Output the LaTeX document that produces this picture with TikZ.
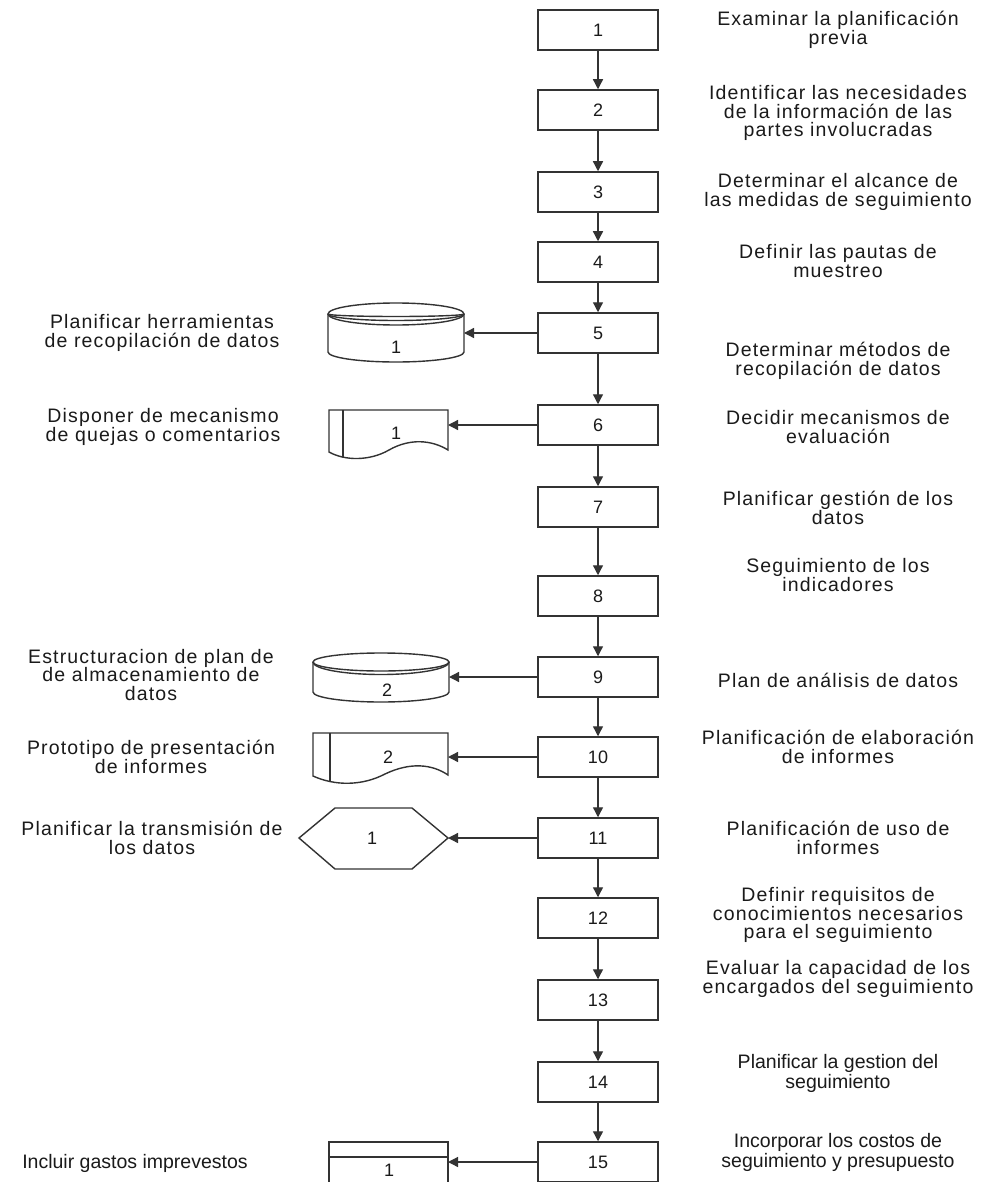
\documentclass[tikz,border=0pt]{standalone}
\usepackage{fontspec}
\setmainfont{Liberation Sans}
\newfontfamily\spacedf[LetterSpace=6]{Liberation Sans}
\usetikzlibrary{arrows.meta}
\definecolor{lc}{HTML}{333333}
\definecolor{tc}{HTML}{1A1A1A}
\begin{document}
\begin{tikzpicture}[x=1pt,y=-1pt,
  stepbox/.style={draw=lc, line width=1.5pt, minimum width=120pt, minimum height=40pt,
    inner sep=0pt, text=tc, font=\fontsize{18}{18}\selectfont},
  desc/.style={align=center, inner sep=0pt, text=tc, font=\spacedf\fontsize{19.5}{18.5}\selectfont},
  desctight/.style={align=center, inner sep=0pt, text=tc, font=\fontsize{19.5}{20}\selectfont},
  shapelbl/.style={inner sep=0pt, text=tc, font=\fontsize{18}{18}\selectfont},
  shapeline/.style={draw=lc, line width=1.4pt},
  flow/.style={draw=lc, line width=1.3pt, -{Triangle[length=10pt,width=10pt]}}]
\fill[white] (0,0) rectangle (984,1182);
\useasboundingbox (0,0) rectangle (984,1182);

% main column
\node[stepbox] (b1) at (598,30) {1};
\node[stepbox] (b2) at (598,110) {2};
\node[stepbox] (b3) at (598,192) {3};
\node[stepbox] (b4) at (598,262) {4};
\node[stepbox] (b5) at (598,333) {5};
\node[stepbox] (b6) at (598,425) {6};
\node[stepbox] (b7) at (598,507) {7};
\node[stepbox] (b8) at (598,596) {8};
\node[stepbox] (b9) at (598,677) {9};
\node[stepbox] (b10) at (598,757) {10};
\node[stepbox] (b11) at (598,838) {11};
\node[stepbox] (b12) at (598,918) {12};
\node[stepbox] (b13) at (598,1000) {13};
\node[stepbox] (b14) at (598,1082) {14};
\node[stepbox] (b15) at (598,1162) {15};

\foreach \a/\b in {b1/b2,b2/b3,b3/b4,b4/b5,b5/b6,b6/b7,b7/b8,b8/b9,b9/b10,b10/b11,b11/b12,b12/b13,b13/b14,b14/b15}
  \draw[flow] (\a) -- (\b);

% right descriptions
\node[desc] (t1) at (838,30) {Examinar la planificación\\previa};
\node[desc] (t2) at (838,113) {Identificar las necesidades\\de la información de las\\partes involucradas};
\node[desc] (t3) at (838,192) {Determinar el alcance de\\las medidas de seguimiento};
\node[desc] (t4) at (838,261) {Definir las pautas de\\muestreo};
\node[desc] (t5) at (838,361) {Determinar métodos de\\recopilación de datos};
\node[desc] (t6) at (838,427) {Decidir mecanismos de\\evaluación};
\node[desc] (t7) at (838,508) {Planificar gestión de los\\datos};
\node[desc] (t8) at (838,575) {Seguimiento de los\\indicadores};
\node[desc] (t9) at (838,680) {Plan de análisis de datos};
\node[desc] (t10) at (838,747) {Planificación de elaboración\\de informes};
\node[desc] (t11) at (838,838) {Planificación de uso de\\informes};
\node[desc] (t12) at (838,915) {Definir requisitos de\\conocimientos necesarios\\para el seguimiento};
\node[desc] (t13) at (838,979) {Evaluar la capacidad de los\\encargados del seguimiento};
\node[desctight] (t14) at (838,1073) {Planificar la gestion del\\seguimiento};
\node[desctight] (t15) at (838,1152) {Incorporar los costos de\\seguimiento y presupuesto};

% left descriptions
\node[desc] (l5) at (162,333) {Planificar herramientas\\de recopilación de datos};
\node[desc] (l6) at (163,427) {Disponer de mecanismo\\de quejas o comentarios};
\node[desc] (l9) at (151,675) {Estructuracion de plan de\\de almacenamiento de\\datos};
\node[desc] (l10) at (151,757) {Prototipo de presentación\\de informes};
\node[desc] (l11) at (152,838) {Planificar la transmisión de\\los datos};
\node[desctight] (l15) at (135,1163) {Incluir gastos imprevestos};

% cylinder 1 (step 5)
\draw[shapeline, fill=white] (328,314) -- (328,352) arc[start angle=180,end angle=360,x radius=68pt,y radius=10pt] -- (464,314);
\draw[shapeline, fill=white] (396,314) ellipse[x radius=68pt,y radius=11pt];
\draw[shapeline] (328,314) arc[start angle=180,end angle=360,x radius=68pt,y radius=6.5pt];
\draw[shapeline] (328,314) arc[start angle=180,end angle=360,x radius=68pt,y radius=2.5pt];
\node[shapelbl] (s5) at (396,347) {1};
\coordinate (s5e) at (464,333);

% document 1 (step 6)
\draw[shapeline, fill=white] (329,410) -- (448,410) -- (448,450)
  .. controls (432,440) and (410,438) .. (389,450)
  .. controls (370,461) and (345,461) .. (329,452) -- cycle;
\draw[shapeline] (343,410) -- (343,456.5);
\node[shapelbl] (s6) at (396,433) {1};
\coordinate (s6e) at (448,425);

% cylinder 2 (step 9)
\draw[shapeline, fill=white] (313,662) -- (313,692) arc[start angle=180,end angle=360,x radius=68pt,y radius=10pt] -- (449,662);
\draw[shapeline, fill=white] (381,662) ellipse[x radius=68pt,y radius=9pt];
\draw[shapeline] (313,662) arc[start angle=180,end angle=360,x radius=68pt,y radius=12.5pt];
\node[shapelbl] (s9) at (387,690) {2};
\coordinate (s9e) at (449,677);

% document 2 (step 10)
\draw[shapeline, fill=white] (313,733) -- (448,733) -- (448,775)
  .. controls (432,764) and (410,762) .. (385,774)
  .. controls (362,786) and (335,786) .. (313,776) -- cycle;
\draw[shapeline] (330,733) -- (330,781.5);
\node[shapelbl] (s10) at (388,757) {2};
\coordinate (s10e) at (448,757);

% hexagon (step 11)
\draw[shapeline, fill=white] (299,838) -- (335,808) -- (412,808) -- (448,838) -- (412,869) -- (335,869) -- cycle;
\node[shapelbl] (s11) at (372,838) {1};
\coordinate (s11e) at (448,838);

% table (step 15)
\draw[shapeline, fill=white] (329,1142) rectangle (448,1192);
\draw[shapeline] (329,1157) -- (448,1157);
\node[shapelbl] (s15) at (389,1170) {1};
\coordinate (s15e) at (448,1162);

% side connectors
\draw[flow] (b5) -- (s5e);
\draw[flow] (b6) -- (s6e);
\draw[flow] (b9) -- (s9e);
\draw[flow] (b10) -- (s10e);
\draw[flow] (b11) -- (s11e);
\draw[flow] (b15) -- (s15e);
\end{tikzpicture}
\end{document}
